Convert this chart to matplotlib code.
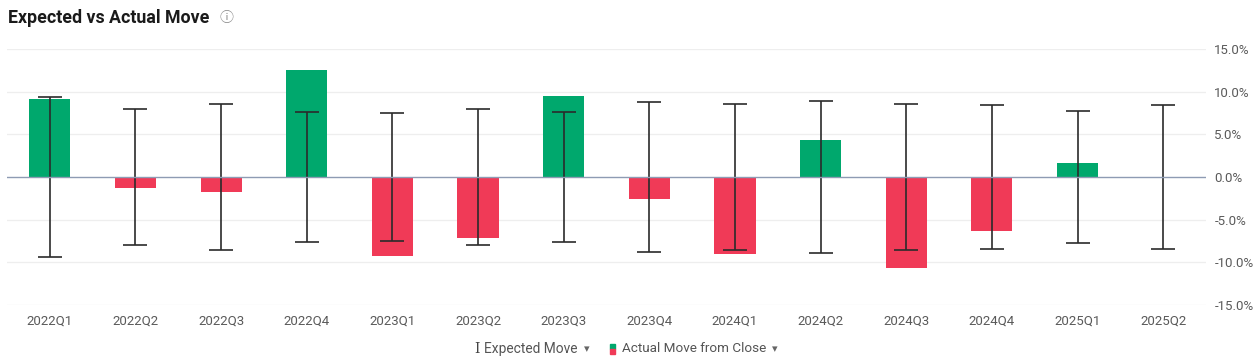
import matplotlib
matplotlib.use("Agg")
import matplotlib.pyplot as plt
from matplotlib.patches import Rectangle

categories = ["2022Q1", "2022Q2", "2022Q3", "2022Q4", "2023Q1", "2023Q2", "2023Q3",
              "2023Q4", "2024Q1", "2024Q2", "2024Q3", "2024Q4", "2025Q1", "2025Q2"]
actual_move = [9.1, -1.3, -1.8, 12.5, -9.3, -7.1, 9.5, -2.6, -9.0, 4.35, -10.65, -6.3, 1.65, None]
expected_move = [9.35, 8.0, 8.55, 7.6, 7.5, 8.0, 7.65, 8.8, 8.6, 8.9, 8.55, 8.4, 7.75, 8.4]
yticks = [-15, -10, -5, 0, 5, 10, 15]

GREEN = "#00a86d"
RED = "#f03a57"
W, H = 1258, 364

plt.rcParams['font.family'] = ['Roboto', 'DejaVu Sans']
fig = plt.figure(figsize=(W / 100, H / 100), dpi=100)
ax = fig.add_axes([7 / W, (H - 305) / H, (1206 - 7) / W, (305 - 49) / H])

x = list(range(len(categories)))
for xi, v in zip(x, actual_move):
    if v is None:
        continue
    ax.bar(xi, v, width=0.48, color=GREEN if v >= 0 else RED, zorder=2)

ax.errorbar(x, [0] * len(x), yerr=expected_move, fmt='none', ecolor='#2b2b2b',
            elinewidth=1.2, capsize=8.6, capthick=1.2, zorder=3)

ax.set_xlim(-0.5, len(categories) - 0.5)
ax.set_ylim(-15, 15)
ax.set_yticks(yticks)
ax.set_yticklabels([f"{t:.1f}%" for t in yticks])
ax.yaxis.tick_right()
ax.set_xticks(x)
ax.set_xticklabels(categories)
ax.tick_params(axis='both', length=0, colors='#5a5a5a', labelsize=9.5)
ax.tick_params(axis='y', pad=6)
ax.tick_params(axis='x', pad=7)
for t in yticks:
    if t == 0:
        ax.axhline(0, color='#8e9bb3', lw=1.0, zorder=4)
    else:
        ax.axhline(t, color='#eeeeee', lw=0.9, zorder=0)
for s in ax.spines.values():
    s.set_visible(False)

# Title
fig.text(8 / W, 1 - 18 / H, "Expected vs Actual Move", fontsize=12.8, fontweight='bold',
         color='#1a1a1a', va='center', ha='left')
fig.text(226 / W, 1 - 18 / H, "\u24d8", fontsize=10, color='#8a8a8a', va='center',
         ha='center', family=['Noto Sans CJK JP', 'DejaVu Sans'])

# Legend
ly = 1 - 349 / H
fig.text(477 / W, ly, "I", fontsize=10, color='#444444', va='center', ha='center',
         family=['DejaVu Serif'])
fig.text(484 / W, ly, "Expected Move", fontsize=9.9, color='#555555', va='center', ha='left')
fig.text(587 / W, ly, "\u25be", fontsize=8, color='#666666', va='center', ha='center',
         family=['DejaVu Sans'])
fig.patches.append(Rectangle((610 / W, (H - 349) / H), 5 / W, 5 / H,
                             transform=fig.transFigure, color=GREEN))
fig.patches.append(Rectangle((610 / W, (H - 354) / H), 5 / W, 5 / H,
                             transform=fig.transFigure, color=RED))
fig.text(622 / W, ly, "Actual Move from Close", fontsize=9.7, color='#555555', va='center', ha='left')
fig.text(775 / W, ly, "\u25be", fontsize=8, color='#666666', va='center', ha='center',
         family=['DejaVu Sans'])

fig.savefig("out.png", dpi=100, facecolor='white')
